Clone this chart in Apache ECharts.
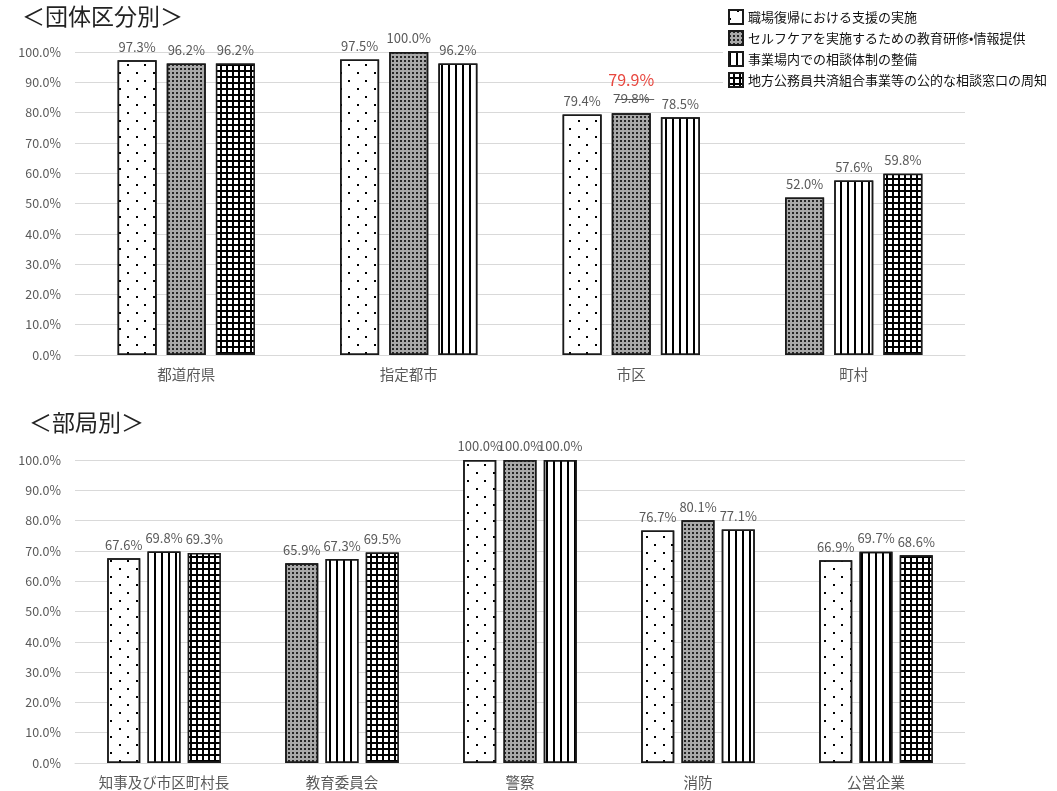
<!DOCTYPE html>
<html>
<head>
<meta charset="utf-8">
<script src="https://cdn.jsdelivr.net/npm/echarts@6/dist/echarts.min.js"></script>
<style>
html,body{margin:0;padding:0;background:#fff;}
#chart{width:1057px;height:791px;}
</style>
</head>
<body>
<div id="chart"></div>
<script>
// ---- data ----
const seriesNames = [
  '職場復帰における支援の実施',
  'セルフケアを実施するための教育研修•情報提供',
  '事業場内での相談体制の整備',
  '地方公務員共済組合事業等の公的な相談窓口の周知'
];
const yTicks = [0, 10, 20, 30, 40, 50, 60, 70, 80, 90, 100];

const topTitle = '＜団体区分別＞';
const topCategories = ['都道府県', '指定都市', '市区', '町村'];
const topReturnSupport   = [97.3, 97.5, 79.4, null];
const topSelfCare        = [96.2, 100.0, 79.8, 52.0];
const topConsultSystem   = [null, 96.2, 78.5, 57.6];
const topMutualAidWindow = [96.2, null, null, 59.8];
// correction shown on the chart: 市区 / セルフケア 79.8% -> 79.9%
const topRevision = { category: '市区', series: 1, oldValue: 79.8, newValue: 79.9 };

const bottomTitle = '＜部局別＞';
const bottomCategories = ['知事及び市区町村長', '教育委員会', '警察', '消防', '公営企業'];
const bottomReturnSupport   = [67.6, null, 100.0, 76.7, 66.9];
const bottomSelfCare        = [null, 65.9, 100.0, 80.1, null];
const bottomConsultSystem   = [69.8, 67.3, 100.0, 77.1, 69.7];
const bottomMutualAidWindow = [69.3, 69.5, null, null, 68.6];

// ---- styles ----
const FONT = '"Noto Sans CJK JP", "Noto Sans", sans-serif';
const border = { borderColor: '#1a1a1a', borderWidth: 1.5 };
const patternStyles = [
  Object.assign({ color: '#ffffff', decal: {
    symbol: 'rect', symbolSize: 1, color: '#000',
    dashArrayX: [[1.5, 14.5], [0, 8, 1.5, 6.5]], dashArrayY: [1.5, 5.5]
  }}, border),
  Object.assign({ color: '#a9a9a9', decal: {
    symbol: 'rect', symbolSize: 1, color: '#262626',
    dashArrayX: [2, 2], dashArrayY: [2, 2]
  }}, border),
  Object.assign({ color: '#ffffff', decal: {
    symbol: 'rect', symbolSize: 1, color: '#000',
    dashArrayX: [2, 4.5], dashArrayY: [10, 0]
  }}, border),
  Object.assign({ color: '#000000', decal: {
    symbol: 'rect', symbolSize: 1, color: '#ffffff',
    dashArrayX: [4, 2], dashArrayY: [4, 2]
  }}, border)
];

const pct = v => v.toFixed(1) + '%';
const strike = s => s.split('').map(c => c + '\u0336').join('');

function buildSlotSeries(categories, arrays, gridIndex, barWidth, barGap, revision) {
  const slots = [[], [], []];
  categories.forEach((cat, ci) => {
    const present = [];
    arrays.forEach((arr, si) => { if (arr[ci] !== null && arr[ci] !== undefined) present.push(si); });
    for (let k = 0; k < 3; k++) {
      const si = present[k];
      if (si === undefined) { slots[k].push(null); continue; }
      const item = { value: arrays[si][ci], itemStyle: patternStyles[si] };
      if (revision && revision.category === cat && revision.series === si) {
        item.label = {
          formatter: '{red|' + pct(revision.newValue) + '}\n{old|' + strike(pct(revision.oldValue)) + '}',
          rich: {
            red: { color: '#e8473f', fontSize: 16, fontFamily: FONT, lineHeight: 18 },
            old: { color: '#595959', fontSize: 13, fontFamily: FONT, lineHeight: 17 }
          }
        };
      }
      slots[k].push(item);
    }
  });
  return slots.map(d => ({
    type: 'bar',
    xAxisIndex: gridIndex, yAxisIndex: gridIndex,
    barWidth: barWidth, barGap: barGap,
    data: d,
    label: {
      show: true, position: 'top', distance: 7,
      color: '#595959', fontSize: 13, fontFamily: FONT,
      formatter: p => pct(p.value)
    },
    emphasis: { disabled: true },
    silent: true
  }));
}

const yAxisBase = gi => ({
  type: 'value', gridIndex: gi, min: yTicks[0], max: yTicks[yTicks.length - 1],
  interval: yTicks[1] - yTicks[0],
  axisLine: { show: false }, axisTick: { show: false },
  splitLine: { lineStyle: { color: '#d9d9d9', width: 1 } },
  axisLabel: { color: '#595959', fontSize: 12.5, fontFamily: FONT, margin: 14, formatter: v => pct(v) }
});
const xAxisBase = (gi, cats) => ({
  type: 'category', gridIndex: gi, data: cats,
  axisLine: { lineStyle: { color: '#d9d9d9' } }, axisTick: { show: false },
  axisLabel: { color: '#595959', fontSize: 14.5, fontFamily: FONT, margin: 12 }
});

const series = []
  .concat(buildSlotSeries(topCategories, [topReturnSupport, topSelfCare, topConsultSystem, topMutualAidWindow], 0, 39, '26%', topRevision))
  .concat(buildSlotSeries(bottomCategories, [bottomReturnSupport, bottomSelfCare, bottomConsultSystem, bottomMutualAidWindow], 1, 33, '22%', null));

// legend-only series on a hidden grid
seriesNames.forEach((name, i) => {
  series.push({ type: 'bar', name: name, xAxisIndex: 2, yAxisIndex: 2, data: [], itemStyle: patternStyles[i] });
});

const chart = echarts.init(document.getElementById('chart'), null, { renderer: 'canvas' });
chart.setOption({
  animation: false,
  backgroundColor: '#ffffff',
  textStyle: { fontFamily: FONT },
  title: [
    { text: topTitle, left: 17, top: 0, textStyle: { fontSize: 23, fontWeight: 'normal', color: '#222', fontFamily: FONT } },
    { text: bottomTitle, left: 24, top: 406, textStyle: { fontSize: 23, fontWeight: 'normal', color: '#222', fontFamily: FONT } }
  ],
  legend: {
    orient: 'vertical', left: 723, top: 5, itemWidth: 14, itemHeight: 14, itemGap: 5,
    icon: 'rect',
    selectedMode: false, backgroundColor: '#ffffff', padding: [4, 5, 4, 5],
    textStyle: { fontSize: 13, color: '#111', fontFamily: FONT },
    data: seriesNames
  },
  grid: [
    { left: 75, right: 92, top: 52, height: 303 },
    { left: 75, right: 92, top: 460, height: 303 },
    { left: -500, top: -500, width: 10, height: 10 }
  ],
  xAxis: [xAxisBase(0, topCategories), xAxisBase(1, bottomCategories), { type: 'category', gridIndex: 2, show: false, data: ['x'] }],
  yAxis: [yAxisBase(0), yAxisBase(1), { type: 'value', gridIndex: 2, show: false }],
  series: series
});
</script>
</body>
</html>
